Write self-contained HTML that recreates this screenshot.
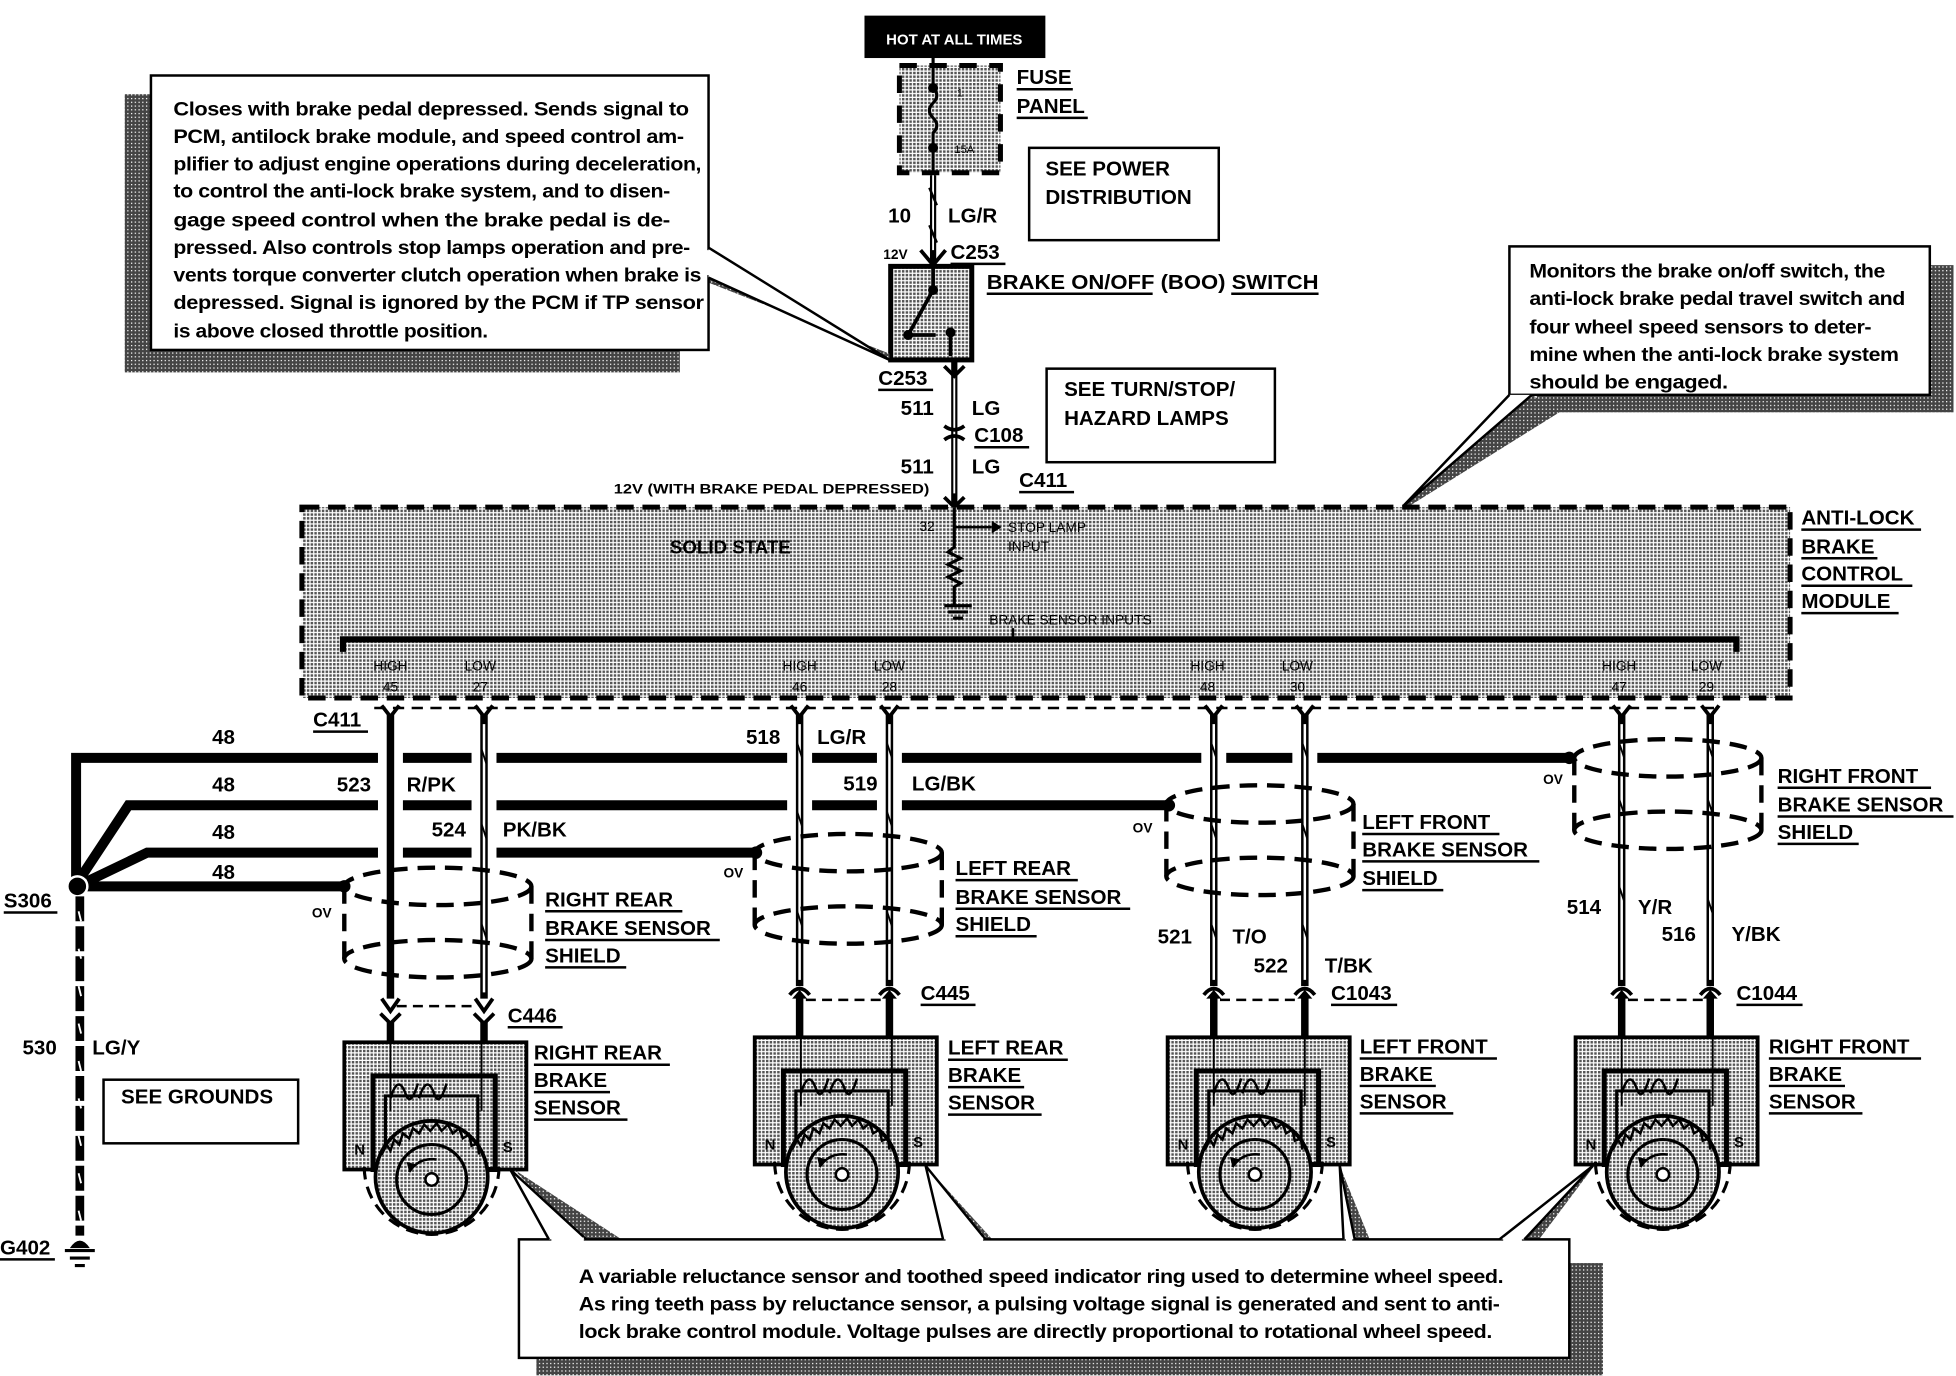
<!DOCTYPE html>
<html><head><meta charset="utf-8"><style>
html,body{margin:0;padding:0;background:#fff;}
svg{display:block;}
text{font-family:"Liberation Sans",Arial,sans-serif;fill:#000;}
.b{font-weight:bold;font-size:16.5px;}
.s{font-weight:bold;font-size:11px;}
.n{font-size:15.5px;font-weight:bold;letter-spacing:-0.3px;}
.t{font-size:11px;}
</style></head><body>
<svg width="1956" height="1376" viewBox="0 0 1568 1102" xmlns="http://www.w3.org/2000/svg">
<defs>
<pattern id="dot" width="3" height="3" patternUnits="userSpaceOnUse"><rect width="3" height="3" fill="#fff"/><rect width="2" height="2" fill="#555"/></pattern>
<pattern id="dk" width="3" height="3" patternUnits="userSpaceOnUse"><rect width="3" height="3" fill="#444"/><rect width="1" height="1" fill="#fff"/></pattern>
<g id="sensor">
  <rect x="0" y="0" width="146" height="102" fill="url(#dot)" stroke="#000" stroke-width="3"/>
  <rect x="23" y="27" width="98" height="75" fill="url(#dot)" stroke="#000" stroke-width="4"/>
  <rect x="33" y="43" width="74" height="50" fill="none" stroke="#000" stroke-width="2.5"/>
  <line x1="37" y1="0" x2="37" y2="55" stroke="#000" stroke-width="1.5"/>
  <line x1="110" y1="0" x2="110" y2="55" stroke="#000" stroke-width="1.5"/>
  <path d="M37 45 q6 -20 12 -4 q4 12 10 -8 M60 45 q6 -20 12 -4 q4 12 10 -8" fill="none" stroke="#000" stroke-width="2"/>
  <path d="M16 100 A 54 54 0 0 0 124 100" fill="none" stroke="#000" stroke-width="2.5" stroke-dasharray="10 6"/>
  <circle cx="70" cy="108" r="45" fill="url(#dot)" stroke="#000" stroke-width="3"/>
  <path d="M30 90 l4 -8 l3 5 l3 -9 l4 4 l3 -9 l5 4 l3 -8 l5 4 l4 -7 l5 5 l5 -6 l4 6 l5 -5 l4 7 l5 -4 l3 8 l5 -3 l2 9 l5 -2 l1 9" fill="none" stroke="#000" stroke-width="2"/>
  <circle cx="70" cy="110" r="28" fill="none" stroke="#000" stroke-width="2.5"/>
  <circle cx="70" cy="110" r="5" fill="#fff" stroke="#000" stroke-width="2"/>
  <path d="M52 104 q8 -12 22 -10" fill="none" stroke="#000" stroke-width="2"/>
  <path d="M52 104 l-2 -8 l8 2 z" fill="#000"/>
  <text x="8" y="90" class="s" style="font-size:12px">N</text>
  <text x="127" y="88" class="s" style="font-size:12px">S</text>
</g>
<g id="shield" fill="none" stroke="#000" stroke-width="3.5" stroke-dasharray="14 8">
  <ellipse cx="0" cy="0" rx="75" ry="15"/>
  <ellipse cx="0" cy="58" rx="75" ry="15"/>
  <line x1="-75" y1="0" x2="-75" y2="58"/>
  <line x1="75" y1="0" x2="75" y2="58"/>
</g>
</defs>

<rect x="693" y="12" width="145" height="34" fill="#000"/>
<text x="765" y="35" text-anchor="middle" style="font-size:12px;font-weight:bold;fill:#fff">HOT AT ALL TIMES</text>
<rect x="721" y="52" width="81" height="86" fill="url(#dot)" stroke="#000" stroke-width="4" stroke-dasharray="14 10"/>
<path d="M748 46 V70 q6 6 0 12 q-6 6 0 12 q6 6 0 12 V150" fill="none" stroke="#000" stroke-width="2.5"/>
<circle cx="748" cy="70" r="4"/><circle cx="748" cy="118" r="4"/>
<text x="767" y="77" class="t" style="font-size:9px">1</text>
<text x="765" y="122" class="t" style="font-size:9px">15A</text>
<text x="815" y="67" class="b">FUSE</text><line x1="815" y1="71" x2="860" y2="71" stroke="#000" stroke-width="2"/>
<text x="815" y="90" class="b">PANEL</text><line x1="815" y1="94" x2="872" y2="94" stroke="#000" stroke-width="2"/>
<rect x="825" y="118" width="152" height="74" fill="#fff" stroke="#000" stroke-width="2"/>
<text x="838" y="140" class="b">SEE POWER</text><text x="838" y="163" class="b">DISTRIBUTION</text>
<line x1="748" y1="140" x2="748" y2="212" stroke="#000" stroke-width="5"/>
<line x1="748" y1="140" x2="748" y2="200" stroke="#fff" stroke-width="1.5"/>
<path d="M745 150 l6 14 M745 180 l6 14" stroke="#000" stroke-width="2"/>
<path d="M738 200 l10 12 l10 -12" fill="none" stroke="#000" stroke-width="3"/>
<text x="712" y="178" class="b">10</text><text x="760" y="178" class="b">LG/R</text>
<text x="708" y="207" class="s">12V</text><text x="762" y="207" class="b">C253</text>
<line x1="762" y1="211" x2="806" y2="211" stroke="#000" stroke-width="2"/>
<rect x="714" y="213" width="65" height="75" fill="url(#dot)" stroke="#000" stroke-width="4"/>
<path d="M748 213 V232 L728 268 H750 M762 262 V285" fill="none" stroke="#000" stroke-width="3"/>
<circle cx="748" cy="232" r="4"/><circle cx="728" cy="268" r="4"/><circle cx="762" cy="266" r="4"/>
<text x="791" y="231" class="b" textLength="266" lengthAdjust="spacingAndGlyphs">BRAKE ON/OFF (BOO) SWITCH</text>
<line x1="791" y1="235" x2="924" y2="235" stroke="#000" stroke-width="2"/>
<line x1="987" y1="235" x2="1057" y2="235" stroke="#000" stroke-width="2"/>
<rect x="100" y="75" width="445" height="223" fill="url(#dk)"/>
<polygon points="565,218 713,288 713,283 568,226" fill="url(#dk)"/>
<rect x="121" y="60" width="447" height="220" fill="#fff" stroke="#000" stroke-width="2"/>
<polyline points="568,198 713,288 568,222" fill="#fff" stroke="#000" stroke-width="2"/>
<line x1="568" y1="200" x2="568" y2="220" stroke="#fff" stroke-width="3"/>
<g class="n">
<text x="139" y="92" textLength="413" lengthAdjust="spacingAndGlyphs">Closes with brake pedal depressed.  Sends signal to</text>
<text x="139" y="114" textLength="409" lengthAdjust="spacingAndGlyphs">PCM, antilock brake module, and speed control am-</text>
<text x="139" y="136" textLength="423" lengthAdjust="spacingAndGlyphs">plifier to adjust engine operations during deceleration,</text>
<text x="139" y="158" textLength="398" lengthAdjust="spacingAndGlyphs">to control the anti-lock brake system, and to disen-</text>
<text x="139" y="181" textLength="398" lengthAdjust="spacingAndGlyphs">gage speed control when the brake pedal is de-</text>
<text x="139" y="203" textLength="414" lengthAdjust="spacingAndGlyphs">pressed. Also controls stop lamps operation and pre-</text>
<text x="139" y="225" textLength="423" lengthAdjust="spacingAndGlyphs">vents torque converter clutch operation when brake is</text>
<text x="139" y="247" textLength="425" lengthAdjust="spacingAndGlyphs">depressed.  Signal is ignored by the PCM if TP sensor</text>
<text x="139" y="270" textLength="252" lengthAdjust="spacingAndGlyphs">is above closed throttle position.</text>
</g>
<line x1="765" y1="288" x2="765" y2="405" stroke="#000" stroke-width="5"/>
<line x1="765" y1="300" x2="765" y2="395" stroke="#fff" stroke-width="1.5"/>
<path d="M757 293 l8 8 l8 -8 M757 341 q8 6 16 0 M757 352 q8 -6 16 0 M757 398 l8 8 l8 -8" fill="none" stroke="#000" stroke-width="3"/>
<text x="704" y="308" class="b">C253</text><line x1="704" y1="312" x2="748" y2="312" stroke="#000" stroke-width="2"/>
<text x="722" y="332" class="b">511</text><text x="779" y="332" class="b">LG</text>
<text x="781" y="354" class="b">C108</text><line x1="781" y1="358" x2="825" y2="358" stroke="#000" stroke-width="2"/>
<text x="722" y="379" class="b">511</text><text x="779" y="379" class="b">LG</text>
<text x="817" y="390" class="b">C411</text><line x1="817" y1="394" x2="861" y2="394" stroke="#000" stroke-width="2"/>
<text x="492" y="395" class="s" textLength="253" lengthAdjust="spacingAndGlyphs">12V (WITH BRAKE PEDAL DEPRESSED)</text>
<rect x="839" y="295" width="183" height="75" fill="#fff" stroke="#000" stroke-width="2"/>
<text x="853" y="317" class="b">SEE TURN/STOP/</text><text x="853" y="340" class="b">HAZARD LAMPS</text>
<rect x="1232" y="212" width="334" height="118" fill="url(#dk)"/>
<polygon points="1228,316 1125,405 1130,405 1250,330" fill="url(#dk)"/>
<rect x="1210" y="197" width="337" height="119" fill="#fff" stroke="#000" stroke-width="2"/>
<polyline points="1210,316 1125,405 1228,316" fill="#fff" stroke="#000" stroke-width="2"/>
<g class="n">
<text x="1226" y="222" textLength="285" lengthAdjust="spacingAndGlyphs">Monitors the brake on/off switch, the</text>
<text x="1226" y="244" textLength="301" lengthAdjust="spacingAndGlyphs">anti-lock brake pedal travel switch and</text>
<text x="1226" y="267" textLength="274" lengthAdjust="spacingAndGlyphs">four wheel speed sensors to deter-</text>
<text x="1226" y="289" textLength="296" lengthAdjust="spacingAndGlyphs">mine when the anti-lock brake system</text>
<text x="1226" y="311" textLength="159" lengthAdjust="spacingAndGlyphs">should be engaged.</text>
</g>
<rect x="242" y="406" width="1193" height="153" fill="url(#dot)" stroke="#000" stroke-width="4" stroke-dasharray="14 7"/>
<text x="537" y="443" class="b" style="font-size:15px">SOLID STATE</text>
<path d="M765 406 V438 l-5 4 l10 5 l-10 5 l10 5 l-10 5 l10 5 l-5 3 V485" fill="none" stroke="#000" stroke-width="2.5"/>
<path d="M765 422 H795" stroke="#000" stroke-width="2"/><path d="M795 417 l8 5 l-8 5z"/>
<path d="M757 485 H779 M760 490 H776 M764 495 H772" stroke="#000" stroke-width="2.5"/>
<text x="737" y="425" class="t">32</text>
<text x="808" y="426" class="t">STOP LAMP</text><text x="808" y="441" class="t">INPUT</text>
<text x="793" y="500" class="t">BRAKE SENSOR INPUTS</text>
<path d="M275 522 V512 H1392 V522" fill="none" stroke="#000" stroke-width="5"/>
<line x1="812" y1="512" x2="812" y2="503" stroke="#000" stroke-width="2"/>
<g class="t" text-anchor="middle">
<text x="313" y="537">HIGH</text><text x="385" y="537">LOW</text><text x="641" y="537">HIGH</text><text x="713" y="537">LOW</text>
<text x="968" y="537">HIGH</text><text x="1040" y="537">LOW</text><text x="1298" y="537">HIGH</text><text x="1368" y="537">LOW</text>
<text x="313" y="554">45</text><text x="385" y="554">27</text><text x="641" y="554">46</text><text x="713" y="554">28</text>
<text x="968" y="554">48</text><text x="1040" y="554">30</text><text x="1298" y="554">47</text><text x="1368" y="554">29</text>
</g>
<text x="1444" y="420" class="b">ANTI-LOCK</text><line x1="1444" y1="424" x2="1540" y2="424" stroke="#000" stroke-width="2"/>
<text x="1444" y="443" class="b">BRAKE</text><line x1="1444" y1="447" x2="1505" y2="447" stroke="#000" stroke-width="2"/>
<text x="1444" y="465" class="b">CONTROL</text><line x1="1444" y1="469" x2="1533" y2="469" stroke="#000" stroke-width="2"/>
<text x="1444" y="487" class="b">MODULE</text><line x1="1444" y1="491" x2="1522" y2="491" stroke="#000" stroke-width="2"/>

<line x1="300" y1="567" x2="1380" y2="567" stroke="#000" stroke-width="2" stroke-dasharray="9 6"/>
<text x="251" y="582" class="b">C411</text><line x1="251" y1="586" x2="295" y2="586" stroke="#000" stroke-width="2"/>

<g stroke="#000" stroke-width="8" fill="none">
<path d="M61 710 V607 H1258"/>
<path d="M64 704 L103 645 H937"/>
<path d="M70 706 L118 683 H606"/>
<path d="M64 710 H276"/>
</g>
<circle cx="1258" cy="607" r="5"/><circle cx="937" cy="645" r="5"/><circle cx="606" cy="683" r="5"/><circle cx="276" cy="710" r="5"/>
<circle cx="62" cy="710" r="8" fill="#000" stroke="#fff" stroke-width="2"/>
<line x1="64" y1="718" x2="64" y2="990" stroke="#000" stroke-width="7" stroke-dasharray="20 4"/>
<path d="M63 730 l2 8 M63 760 l2 8 M63 790 l2 8 M63 820 l2 8 M63 850 l2 8 M63 880 l2 8 M63 910 l2 8 M63 940 l2 8 M63 970 l2 8" stroke="#fff" stroke-width="1.5"/>
<path d="M56 1000 q8 -12 16 0 z" fill="#000"/>
<path d="M52 1002 H76 M56 1008 H72 M60 1014 H68" stroke="#000" stroke-width="2.5"/>
<text x="3" y="727" class="b">S306</text><line x1="3" y1="731" x2="46" y2="731" stroke="#000" stroke-width="2"/>
<text x="0" y="1005" class="b">G402</text><line x1="0" y1="1009" x2="44" y2="1009" stroke="#000" stroke-width="2"/>
<text x="18" y="845" class="b">530</text><text x="74" y="845" class="b">LG/Y</text>
<rect x="83" y="865" width="156" height="51" fill="#fff" stroke="#000" stroke-width="2"/>
<text x="97" y="884" class="b">SEE GROUNDS</text>
<g class="b"><text x="170" y="596">48</text><text x="170" y="634">48</text><text x="170" y="672">48</text><text x="170" y="704">48</text></g>

<g stroke="#fff" stroke-width="20">
<line x1="313" y1="598" x2="313" y2="720"/><line x1="388" y1="598" x2="388" y2="720"/>
<line x1="641" y1="598" x2="641" y2="655"/><line x1="713" y1="598" x2="713" y2="655"/>
<line x1="973" y1="598" x2="973" y2="620"/><line x1="1046" y1="598" x2="1046" y2="620"/>
</g>
<line x1="313" y1="572" x2="313" y2="800" stroke="#000" stroke-width="6"/>
<g stroke="#000" stroke-width="6"><line x1="388" y1="572" x2="388" y2="800"/><line x1="641" y1="572" x2="641" y2="790"/><line x1="713" y1="572" x2="713" y2="790"/><line x1="973" y1="572" x2="973" y2="790"/><line x1="1046" y1="572" x2="1046" y2="790"/><line x1="1300" y1="572" x2="1300" y2="790"/><line x1="1371" y1="572" x2="1371" y2="790"/></g>
<g stroke="#fff" stroke-width="2"><line x1="388" y1="580" x2="388" y2="795"/><line x1="641" y1="580" x2="641" y2="785"/><line x1="713" y1="580" x2="713" y2="785"/><line x1="973" y1="580" x2="973" y2="785"/><line x1="1046" y1="580" x2="1046" y2="785"/><line x1="1300" y1="580" x2="1300" y2="785"/><line x1="1371" y1="580" x2="1371" y2="785"/></g>
<g stroke="#000" stroke-width="1.5">
<path d="M311 590 l4 12 M386 600 l4 12 M639 595 l4 12 M711 595 l4 12 M971 595 l4 12 M1044 595 l4 12 M1298 595 l4 12 M1369 595 l4 12"/>
<path d="M311 650 l4 12 M386 660 l4 12 M639 650 l4 12 M711 650 l4 12 M971 660 l4 12 M1044 660 l4 12 M1298 640 l4 12 M1369 640 l4 12"/>
<path d="M311 740 l4 12 M386 740 l4 12 M639 730 l4 12 M711 730 l4 12 M971 740 l4 12 M1044 740 l4 12 M1298 710 l4 12 M1369 720 l4 12"/>
</g>
<path d="M306 565 l7 9 l7 -9 M381 565 l7 9 l7 -9 M634 565 l7 9 l7 -9 M706 565 l7 9 l7 -9 M966 565 l7 9 l7 -9 M1039 565 l7 9 l7 -9 M1293 565 l7 9 l7 -9 M1364 565 l7 9 l7 -9" fill="none" stroke="#000" stroke-width="3"/>
<use href="#shield" transform="translate(351,710)"/>
<use href="#shield" transform="translate(680,683)"/>
<use href="#shield" transform="translate(1010,644)"/>
<use href="#shield" transform="translate(1337,607)"/>
<line x1="318" y1="806" x2="383" y2="806" stroke="#000" stroke-width="2" stroke-dasharray="8 5"/>
<path d="M306 800 l7 10 l7 -10 M381 800 l7 10 l7 -10 M305 812 l8 8 l8 -8 M380 812 l8 8 l8 -8" fill="none" stroke="#000" stroke-width="3"/>
<g stroke="#000" stroke-width="6"><line x1="313" y1="818" x2="313" y2="836"/><line x1="388" y1="818" x2="388" y2="836"/></g>
<g fill="none" stroke="#000" stroke-width="3">
<path d="M633 797 q8 -10 16 0 M705 797 q8 -10 16 0 M965 797 q8 -10 16 0 M1038 797 q8 -10 16 0 M1292 797 q8 -10 16 0 M1363 797 q8 -10 16 0"/>
</g>
<g stroke="#000" stroke-width="2" stroke-dasharray="8 5"><line x1="646" y1="801" x2="708" y2="801"/><line x1="978" y1="801" x2="1041" y2="801"/><line x1="1305" y1="801" x2="1366" y2="801"/></g>
<g stroke="#000" stroke-width="6"><line x1="641" y1="798" x2="641" y2="832"/><line x1="713" y1="798" x2="713" y2="832"/><line x1="973" y1="798" x2="973" y2="832"/><line x1="1046" y1="798" x2="1046" y2="832"/><line x1="1300" y1="798" x2="1300" y2="832"/><line x1="1371" y1="798" x2="1371" y2="832"/></g>
<path d="M635 800 l6 -7 l6 7z M707 800 l6 -7 l6 7z M967 800 l6 -7 l6 7z M1040 800 l6 -7 l6 7z M1294 800 l6 -7 l6 7z M1365 800 l6 -7 l6 7z"/>
<g class="b">
<text x="270" y="634">523</text><text x="326" y="634">R/PK</text>
<text x="346" y="670">524</text><text x="403" y="670">PK/BK</text>
<text x="598" y="596">518</text><text x="655" y="596">LG/R</text>
<text x="676" y="633">519</text><text x="731" y="633">LG/BK</text>
<text x="928" y="756">521</text><text x="988" y="756">T/O</text>
<text x="1005" y="779">522</text><text x="1062" y="779">T/BK</text>
<text x="1256" y="732">514</text><text x="1313" y="732">Y/R</text>
<text x="1332" y="754">516</text><text x="1388" y="754">Y/BK</text>
</g>
<g class="s"><text x="250" y="735">OV</text><text x="580" y="703">OV</text><text x="908" y="667">OV</text><text x="1237" y="628">OV</text></g>
<g class="b">
<text x="437" y="726">RIGHT REAR</text><text x="437" y="749">BRAKE SENSOR</text><text x="437" y="771">SHIELD</text>
<text x="766" y="701">LEFT REAR</text><text x="766" y="724">BRAKE SENSOR</text><text x="766" y="746">SHIELD</text>
<text x="1092" y="664">LEFT FRONT</text><text x="1092" y="686">BRAKE SENSOR</text><text x="1092" y="709">SHIELD</text>
<text x="1425" y="627">RIGHT FRONT</text><text x="1425" y="650">BRAKE SENSOR</text><text x="1425" y="672">SHIELD</text>
<text x="407" y="819">C446</text><text x="738" y="801">C445</text><text x="1067" y="801">C1043</text><text x="1392" y="801">C1044</text>
<text x="428" y="849">RIGHT REAR</text><text x="428" y="871">BRAKE</text><text x="428" y="893">SENSOR</text>
<text x="760" y="845">LEFT REAR</text><text x="760" y="867">BRAKE</text><text x="760" y="889">SENSOR</text>
<text x="1090" y="844">LEFT FRONT</text><text x="1090" y="866">BRAKE</text><text x="1090" y="888">SENSOR</text>
<text x="1418" y="844">RIGHT FRONT</text><text x="1418" y="866">BRAKE</text><text x="1418" y="888">SENSOR</text>
</g>
<g stroke="#000" stroke-width="2">
<line x1="437" y1="730" x2="547" y2="730"/><line x1="437" y1="753" x2="577" y2="753"/><line x1="437" y1="775" x2="502" y2="775"/>
<line x1="766" y1="705" x2="864" y2="705"/><line x1="766" y1="728" x2="906" y2="728"/><line x1="766" y1="750" x2="831" y2="750"/>
<line x1="1092" y1="668" x2="1202" y2="668"/><line x1="1092" y1="690" x2="1234" y2="690"/><line x1="1092" y1="713" x2="1157" y2="713"/>
<line x1="1425" y1="631" x2="1548" y2="631"/><line x1="1425" y1="654" x2="1566" y2="654"/><line x1="1425" y1="676" x2="1490" y2="676"/>
<line x1="407" y1="823" x2="451" y2="823"/><line x1="738" y1="805" x2="782" y2="805"/><line x1="1067" y1="805" x2="1120" y2="805"/><line x1="1392" y1="805" x2="1445" y2="805"/>
<line x1="428" y1="853" x2="537" y2="853"/><line x1="428" y1="875" x2="489" y2="875"/><line x1="428" y1="897" x2="503" y2="897"/>
<line x1="760" y1="849" x2="856" y2="849"/><line x1="760" y1="871" x2="821" y2="871"/><line x1="760" y1="893" x2="835" y2="893"/>
<line x1="1090" y1="848" x2="1200" y2="848"/><line x1="1090" y1="870" x2="1151" y2="870"/><line x1="1090" y1="892" x2="1165" y2="892"/>
<line x1="1418" y1="848" x2="1540" y2="848"/><line x1="1418" y1="870" x2="1479" y2="870"/><line x1="1418" y1="892" x2="1493" y2="892"/>
</g>
<use href="#sensor" transform="translate(276,835)"/>
<use href="#sensor" transform="translate(605,831)"/>
<use href="#sensor" transform="translate(936,831)"/>
<use href="#sensor" transform="translate(1263,831)"/>
<rect x="430" y="1012" width="855" height="90" fill="url(#dk)"/>
<polygon points="412,937 506,998 470,998" fill="url(#dk)"/>
<polygon points="742,934 800,998 770,998" fill="url(#dk)"/>
<polygon points="1074,934 1100,998 1086,998" fill="url(#dk)"/>
<polygon points="1278,934 1230,998 1215,998" fill="url(#dk)"/>
<rect x="416" y="993" width="842" height="95" fill="#fff" stroke="#000" stroke-width="2"/>
<g fill="#fff" stroke="#000" stroke-width="2">
<polyline points="440,993 409,937 470,993"/>
<polyline points="756,993 742,934 790,993"/>
<polyline points="1077,993 1074,934 1086,993"/>
<polyline points="1202,993 1277,934 1222,993"/>
</g>
<g stroke="#fff" stroke-width="3"><line x1="442" y1="993" x2="468" y2="993"/><line x1="758" y1="993" x2="788" y2="993"/><line x1="1079" y1="993" x2="1084" y2="993"/><line x1="1205" y1="993" x2="1220" y2="993"/></g>
<g class="n">
<text x="464" y="1028" textLength="741" lengthAdjust="spacingAndGlyphs">A variable reluctance sensor and toothed speed indicator ring used to determine wheel speed.</text>
<text x="464" y="1050" textLength="738" lengthAdjust="spacingAndGlyphs">As ring teeth pass by reluctance sensor, a pulsing voltage signal is generated and sent to anti-</text>
<text x="464" y="1072" textLength="732" lengthAdjust="spacingAndGlyphs">lock brake control module.  Voltage pulses are directly proportional to rotational wheel speed.</text>
</g>
</svg>
</body></html>
